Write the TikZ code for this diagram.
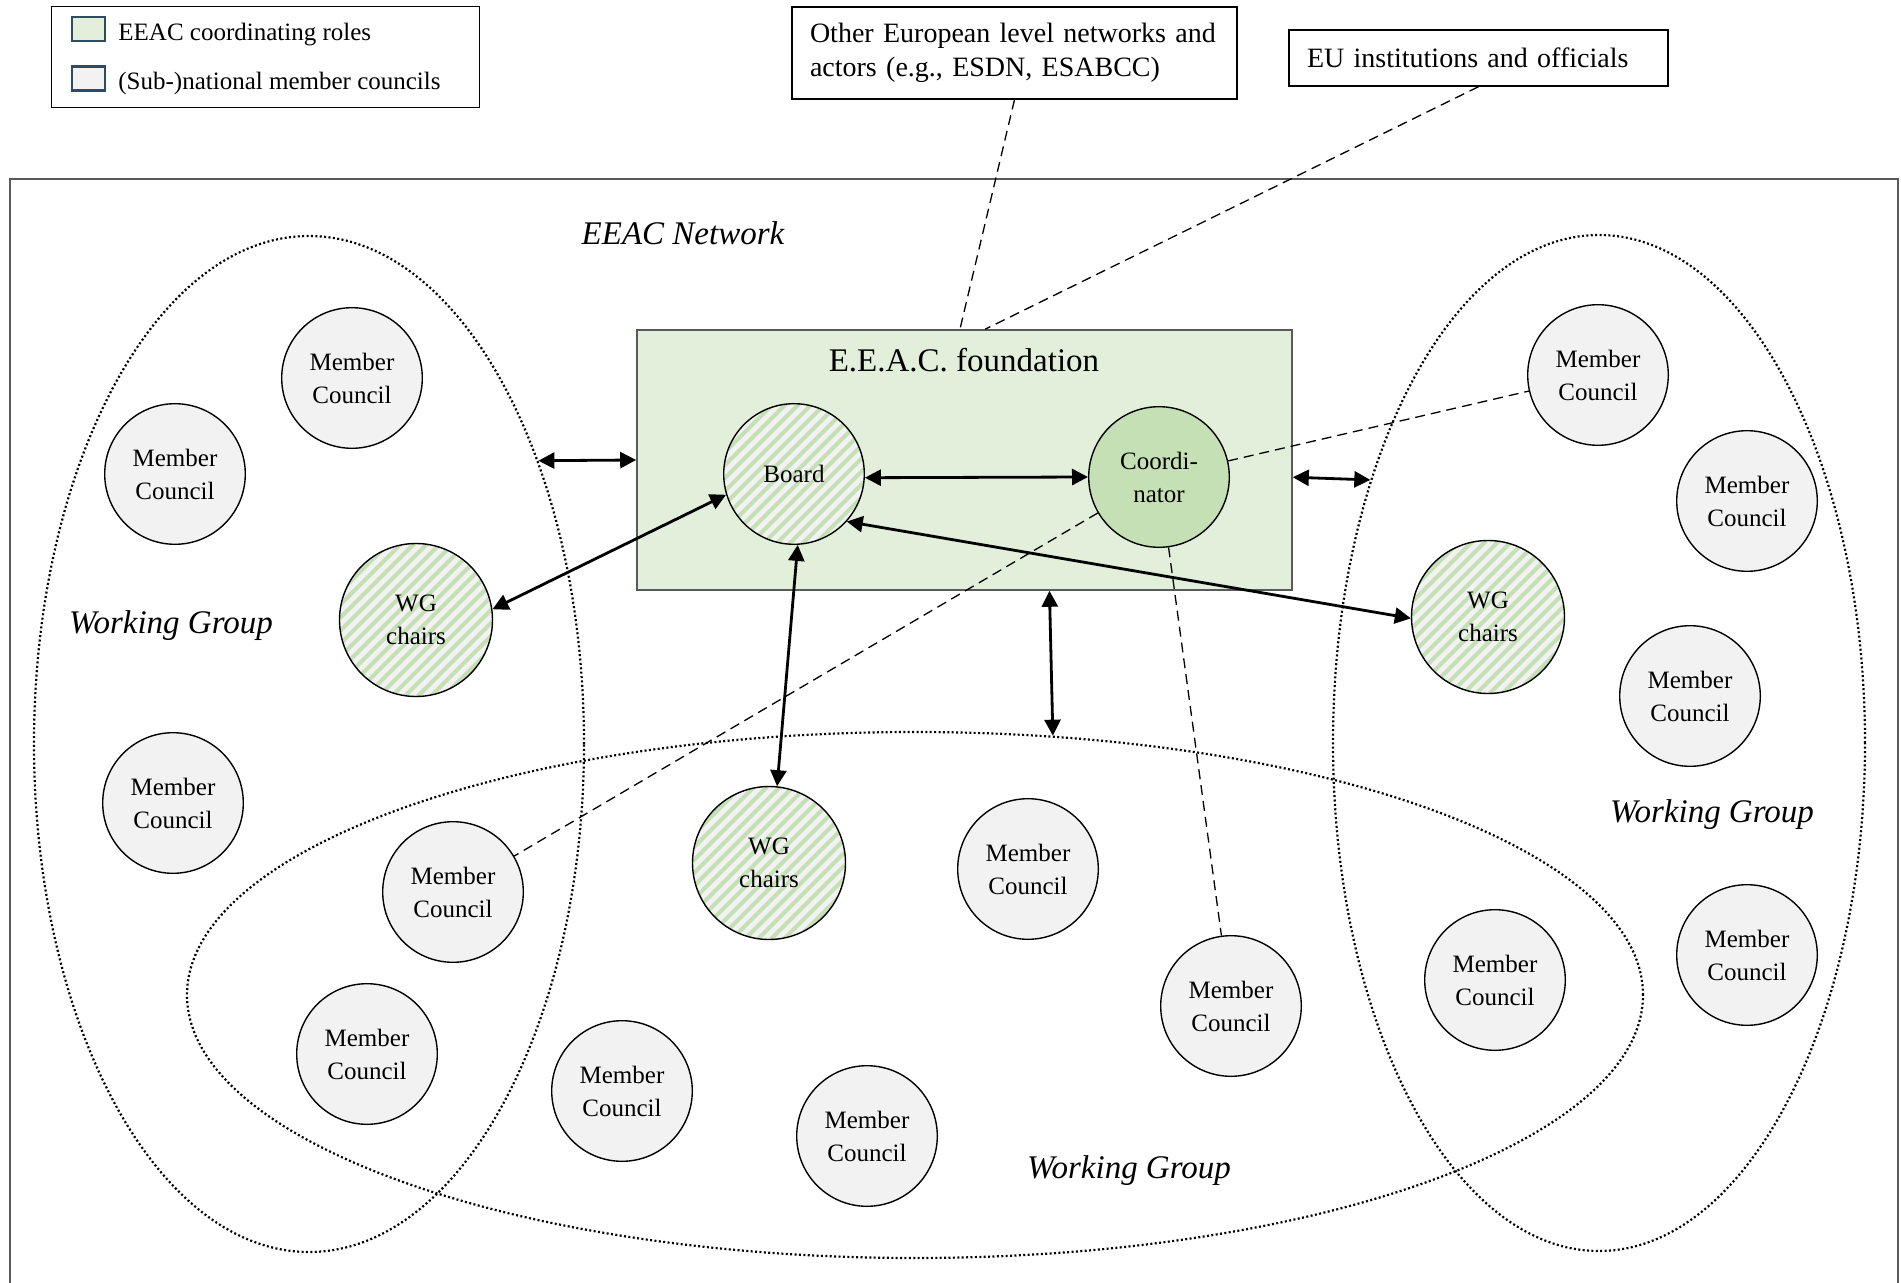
\documentclass[tikz,border=0pt]{standalone}
\usepackage{fontspec}
\setmainfont{Liberation Serif}
\usetikzlibrary{arrows.meta,shapes.geometric,calc}
\definecolor{fgreen}{HTML}{E2EFDA}
\definecolor{cgreen}{HTML}{C5E0B4}
\definecolor{hgreen}{HTML}{C5E0B4}
\definecolor{mgray}{HTML}{F2F2F2}
\definecolor{lborder}{HTML}{2F4A63}
\definecolor{rgray}{HTML}{5A5A5A}
\begin{document}
\begin{tikzpicture}[x=0.5pt,y=-0.5pt,
  mc/.style={circle,draw=black,line width=0.7pt,fill=mgray,minimum size=70.3pt,inner sep=0pt,align=center,font=\fontsize{12.5}{16.5}\selectfont},
  hatched/.style={mc,path picture={\foreach \k in {-14,...,14} {\draw[hgreen,line width=2pt] ([shift={(\k*13-110,110)}]path picture bounding box.center) -- ([shift={(\k*13+110,-110)}]path picture bounding box.center);}}},
  wg/.style={hatched,minimum size=76.5pt},
  grp/.style={ellipse,draw=black,line width=1.1pt,dash pattern=on 1pt off 1.2pt,inner sep=0pt},
  link/.style={line width=1.4pt,{Triangle[length=8pt,width=8pt]}-{Triangle[length=8pt,width=8pt]}},
  dashln/.style={line width=0.65pt,dash pattern=on 5pt off 3pt},
  title/.style={font=\fontsize{16.5}{20}\selectfont},
  grplabel/.style={font=\fontsize{16.5}{20}\selectfont\itshape},
  topbox/.style={draw=black,line width=0.7pt,fill=white,align=left,inner xsep=9pt,inner ysep=0pt,font=\fontsize{14}{17}\selectfont},
  legsq/.style={draw=lborder,line width=1.15pt,minimum width=16.5pt,minimum height=12pt,inner sep=0pt},
  legtxt/.style={anchor=base west,inner sep=0pt,font=\fontsize{12.5}{15}\selectfont}
]
\useasboundingbox (0,0) rectangle (1901,1283);

% legend
\node[draw=black,line width=0.5pt,minimum width=214pt,minimum height=50.5pt,inner sep=0pt] (legend) at (265,57.5) {};
\node[legsq,fill=fgreen] (sq1) at (88.5,29) {};
\node[legsq,fill=mgray] (sq2) at (88.5,78.5) {};
\node[legtxt] (lt1) at (118,41) {EEAC coordinating roles};
\node[legtxt] (lt2) at (118,90) {(Sub-)national member councils};

% top boxes
\node[topbox,text width=204.5pt,minimum height=46pt] (other) at (1014.5,53) {Other European level networks and\\actors (e.g., ESDN, ESABCC)};
\node[topbox,text width=171.5pt,minimum height=28pt] (eu) at (1478.5,58) {EU institutions and officials};

% network frame
\draw[rgray,line width=0.8pt] (10,1290) -- (10,179) -- (1898,179) -- (1898,1290);
\node[grplabel] (netlabel) at (683,233) {EEAC Network};

% groups
\node[grp,minimum width=275pt,minimum height=508pt] (ellL) at (309,744) {};
\node[grp,minimum width=266pt,minimum height=508pt] (ellR) at (1599,743) {};
\node[grp,minimum width=728pt,minimum height=263pt] (ellB) at (915,995) {};

\node[grplabel] (wgl1) at (171,626) {Working Group};
\node[grplabel] (wgl2) at (1712,815) {Working Group};
\node[grplabel] (wgl3) at (1129,1171) {Working Group};

% foundation
\node[draw=rgray,line width=0.8pt,fill=fgreen,minimum width=327.5pt,minimum height=130pt,inner sep=0pt] (found) at (964.5,460) {};
\node[title] (foundlabel) at (964,360) {E.E.A.C. foundation};

% dashed links
\draw[dashln] (other.south) -- (found.92.4);
\draw[dashln] (eu.south) -- (found.81.9);

\node[mc,fill=cgreen] (coord) at (1159,477) {Coordi-\\nator};
\node[hatched] (board) at (794,474) {Board};

% member councils
\node[mc] (mc1) at (352,378) {Member\\Council};
\node[mc] (mc2) at (175,474) {Member\\Council};
\node[mc] (mc3) at (173,803) {Member\\Council};
\node[mc] (mc4) at (453,892) {Member\\Council};
\node[mc] (mc5) at (367,1054) {Member\\Council};
\node[mc] (mc6) at (1028,869) {Member\\Council};
\node[mc] (mc7) at (622,1091) {Member\\Council};
\node[mc] (mc8) at (867,1136) {Member\\Council};
\node[mc] (mc9) at (1231,1006) {Member\\Council};
\node[mc] (mc10) at (1598,375) {Member\\Council};
\node[mc] (mc11) at (1747,501) {Member\\Council};
\node[mc] (mc12) at (1690,696) {Member\\Council};
\node[mc] (mc13) at (1495,980) {Member\\Council};
\node[mc] (mc14) at (1747,955) {Member\\Council};

\node[wg] (wgL) at (416,620) {WG\\chairs};
\node[wg] (wgM) at (769,863) {WG\\chairs};
\node[wg] (wgR) at (1488,617) {WG\\chairs};

\draw[dashln] (coord) -- (mc10);
\draw[dashln] (coord) -- (mc4);
\draw[dashln] (coord) -- (mc9);

% arrows
\draw[link] (ellL.51) -- (found.west);
\draw[link] (found.-3.7) -- (ellR.131);
\draw[link] (found.-57) -- (ellB.62);
\draw[link] (board.-3) -- (coord.180);
\draw[link] (board.197) -- (wgL.8);
\draw[link] (board.273) -- (wgM.84);
\draw[link] (board.318.5) -- (wgR.181);
\end{tikzpicture}
\end{document}
